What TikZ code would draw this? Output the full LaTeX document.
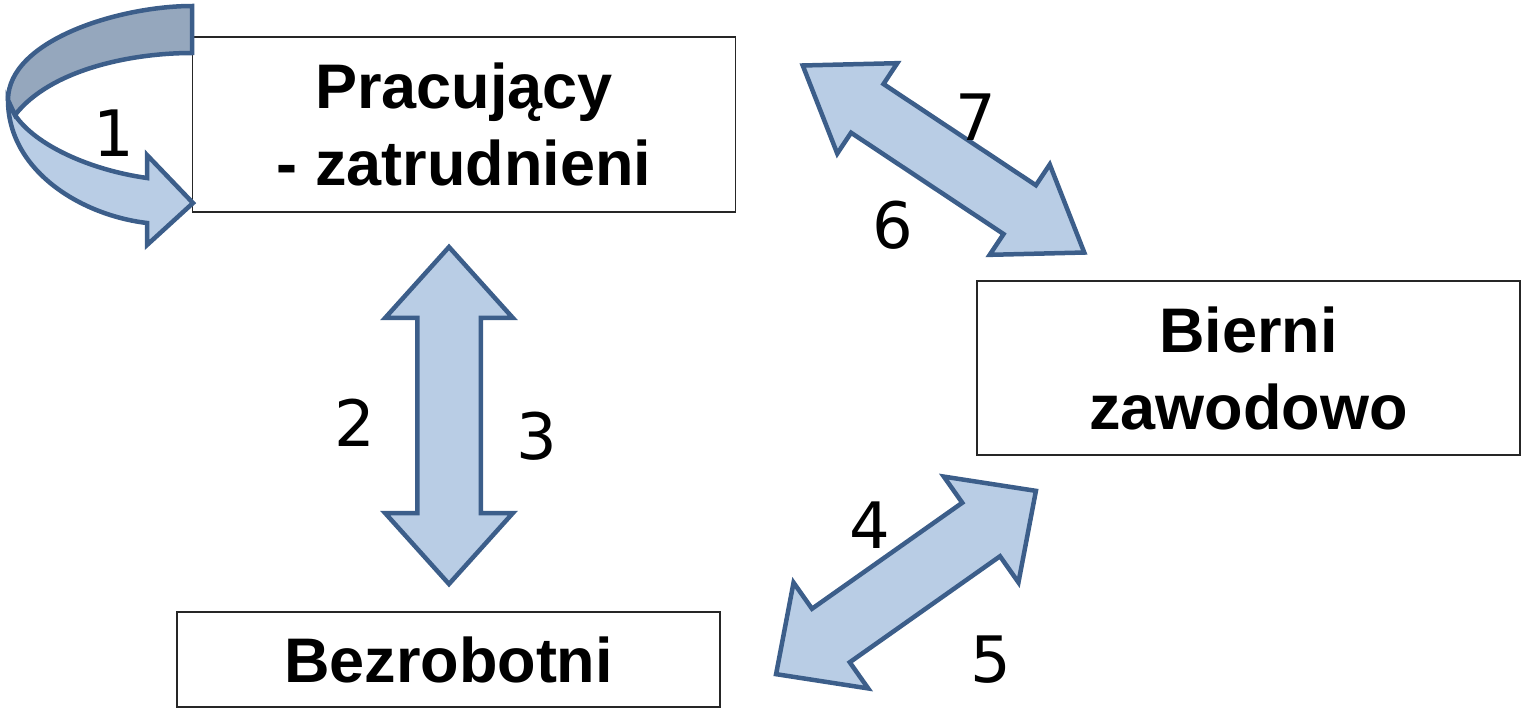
\documentclass[tikz,border=0pt]{standalone}
\usepackage{fontspec}
\setmainfont{Liberation Sans}
\newfontfamily\numfont{DejaVu Sans}
\usetikzlibrary{shapes.arrows}
\definecolor{arrowfill}{HTML}{B9CDE5}
\definecolor{arrowback}{HTML}{95A7BD}
\definecolor{arrowline}{HTML}{3C5E8A}

\begin{document}
\begin{tikzpicture}[x=1pt,y=-1pt,line join=miter,
			state box/.style={draw=black!85,line width=1.8pt,minimum width=543pt,inner sep=0pt,
				align=center,font=\fontsize{63}{77}\selectfont\bfseries},
			flow arrow/.style={double arrow,draw=arrowline,fill=arrowfill,line width=4.5pt,inner xsep=0pt},
			flow label/.style={inner sep=0pt,font=\fontsize{64}{70}\selectfont\numfont}]
			\useasboundingbox (0,0) rectangle (1523,710);
			% the three states
			\node[state box, minimum height=175pt] (1) at (464,124.5) {Pracujący\\- zatrudnieni};
			\node[state box, minimum height=174pt] (2) at (1248.5,368) {Bierni\\zawodowo};
			\node[state box, minimum height=95pt] (3) at (448.5,659.5) {Bezrobotni};
			% flows between them (inner ysep gives half the shaft)
			\node[flow arrow, rotate=90, minimum height=337pt, inner ysep=29.5pt,
				double arrow head extend=32pt, double arrow tip angle=84] (13) at (449,415.5) {};
			\node[flow arrow, rotate=-33.6, minimum height=338pt, inner ysep=27pt,
				double arrow head extend=25pt, double arrow tip angle=70] (12) at (943.5,159) {};
			\node[flow arrow, rotate=35.2, minimum height=318pt, inner ysep=30.5pt,
				double arrow head extend=32pt, double arrow tip angle=88] (23) at (906,582.5) {};
			% staying in work: twisted loop arrow, front side first
			\path[draw=arrowline, fill=arrowfill, line width=4.5pt] (8,100)
				.. controls (8,170) and (80,215) .. (147,223)
				-- (147,245) -- (193,203) -- (147,155) -- (147,178)
				.. controls (90,170) and (35,145) .. (15,115) -- cycle;
			\path[draw=arrowline, fill=arrowback, line width=4.5pt] (192,6)
				.. controls (120,6) and (8,40) .. (8,100) -- (15,115)
				.. controls (50,70) and (130,53) .. (192,53) -- cycle;
			% flow numbers
			\node[flow label] (l1) at (114,133) {1};
			\node[flow label] (l2) at (355,423) {2};
			\node[flow label] (l3) at (537,436) {3};
			\node[flow label] (l4) at (870,525) {4};
			\node[flow label] (l5) at (991,660) {5};
			\node[flow label] (l6) at (893,225) {6};
			\node[flow label] (l7) at (976,117) {7};
		\end{tikzpicture}
\end{document}
